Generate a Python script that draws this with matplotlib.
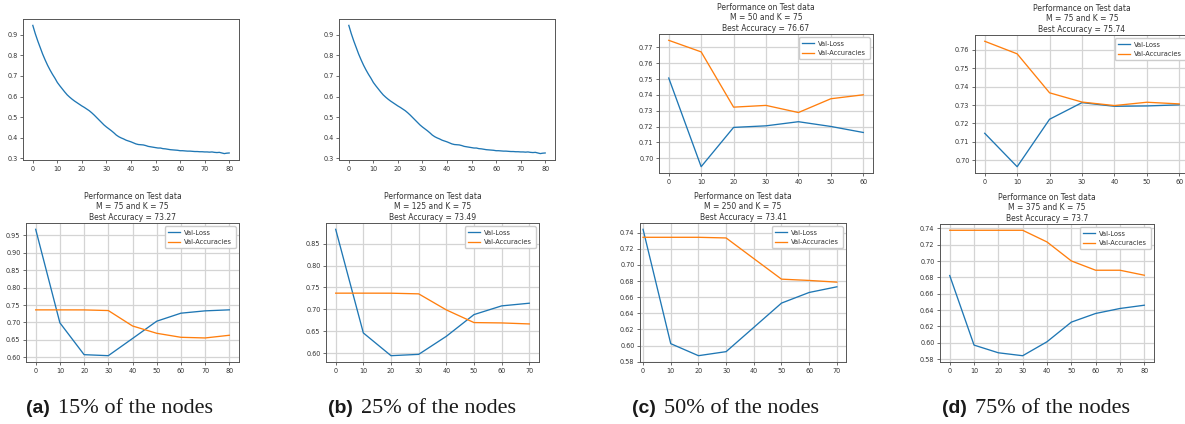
import matplotlib
matplotlib.use('Agg')
import matplotlib.pyplot as plt
from matplotlib.ticker import MultipleLocator, FormatStrFormatter

# ---------------- data ----------------
epochs = list(range(81))
train_loss = [0.945, 0.905, 0.870, 0.838, 0.806, 0.778, 0.752, 0.729, 0.708, 0.689,
              0.668, 0.652, 0.637, 0.622, 0.608, 0.597, 0.587, 0.578, 0.570, 0.562,
              0.554, 0.547, 0.539, 0.531, 0.521, 0.510, 0.498, 0.486, 0.474, 0.462,
              0.452, 0.443, 0.434, 0.424, 0.413, 0.405, 0.399, 0.394, 0.388, 0.384,
              0.380, 0.375, 0.370, 0.367, 0.366, 0.365, 0.362, 0.358, 0.356, 0.354,
              0.352, 0.350, 0.350, 0.347, 0.346, 0.344, 0.342, 0.341, 0.340, 0.339,
              0.337, 0.337, 0.336, 0.335, 0.335, 0.334, 0.333, 0.333, 0.332, 0.332,
              0.331, 0.331, 0.330, 0.331, 0.329, 0.328, 0.329, 0.326, 0.323, 0.325,
              0.326]

steps_m50 = [0, 10, 20, 30, 40, 50, 60]
loss_m50 = [0.7507, 0.6947, 0.7195, 0.7205, 0.7231, 0.7201, 0.7163]
acc_m50 = [0.7745, 0.7672, 0.7323, 0.7334, 0.7289, 0.7376, 0.7401]

steps_m75_top = [0, 10, 20, 30, 40, 50, 60]
loss_m75_top = [0.7147, 0.6966, 0.7223, 0.7313, 0.7293, 0.7295, 0.7301]
acc_m75_top = [0.7645, 0.7577, 0.7366, 0.7316, 0.7297, 0.7315, 0.7306]

steps_m75 = [0, 10, 20, 30, 40, 50, 60, 70, 80]
loss_m75 = [0.967, 0.699, 0.6077, 0.6048, 0.654, 0.7036, 0.7266, 0.7333, 0.7362]
acc_m75 = [0.7361, 0.7361, 0.7360, 0.7342, 0.690, 0.669, 0.6575, 0.6556, 0.6633]

steps_m125 = [0, 10, 20, 30, 40, 50, 60, 70]
loss_m125 = [0.8829, 0.6459, 0.5939, 0.5969, 0.6382, 0.6879, 0.7078, 0.7139]
acc_m125 = [0.7369, 0.7369, 0.7368, 0.7353, 0.6986, 0.6696, 0.6688, 0.6665]

steps_m250 = [0, 10, 20, 30, 40, 50, 60, 70]
loss_m250 = [0.7441, 0.6023, 0.5874, 0.5924, 0.6225, 0.6526, 0.6658, 0.6728]
acc_m250 = [0.7342, 0.7342, 0.7342, 0.7334, 0.7078, 0.6823, 0.6807, 0.6786]

steps_m375 = [0, 10, 20, 30, 40, 50, 60, 70, 80]
loss_m375 = [0.6822, 0.5971, 0.5877, 0.5841, 0.6012, 0.6252, 0.6358, 0.6419, 0.6459]
acc_m375 = [0.7376, 0.7376, 0.7376, 0.7376, 0.7233, 0.7001, 0.6887, 0.6887, 0.6826]

titles = ["Performance on Test data\nM = 50 and K = 75\nBest Accuracy = 76.67",
          "Performance on Test data\nM = 75 and K = 75\nBest Accuracy = 75.74",
          "Performance on Test data\nM = 75 and K = 75\nBest Accuracy = 73.27",
          "Performance on Test data\nM = 125 and K = 75\nBest Accuracy = 73.49",
          "Performance on Test data\nM = 250 and K = 75\nBest Accuracy = 73.41",
          "Performance on Test data\nM = 375 and K = 75\nBest Accuracy = 73.7"]
caption_tags = ["(a)", "(b)", "(c)", "(d)"]
caption_texts = ["15% of the nodes", "25% of the nodes", "50% of the nodes", "75% of the nodes"]

# ---------------- layout ----------------
W, H = 1185, 424
fig = plt.figure(figsize=(W / 100, H / 100), dpi=100)


def px(l, t, r, b):
    return [l / W, 1 - b / H, (r - l) / W, (b - t) / H]


C0 = '#1f77b4'
C1 = '#ff7f0e'
TXT = '#333333'


def style(ax, ystep, yfmt, grid=True):
    ax.tick_params(labelsize=4.7, length=2.5, width=0.6, color='#555555',
                   labelcolor=TXT, pad=1.5)
    for s in ax.spines.values():
        s.set_linewidth(0.7)
        s.set_color('#555555')
    ax.xaxis.set_major_locator(MultipleLocator(10))
    ax.yaxis.set_major_locator(MultipleLocator(ystep))
    ax.yaxis.set_major_formatter(FormatStrFormatter(yfmt))
    if grid:
        ax.grid(True, color='#d4d4d4', linewidth=0.9)
        ax.set_axisbelow(True)


def perf(ax, x, loss, acc, title, ystep):
    ax.plot(x, loss, color=C0, lw=0.95, label='Val-Loss')
    ax.plot(x, acc, color=C1, lw=0.95, label='Val-Accuracies')
    ax.set_title(title, fontsize=5.5, color=TXT, pad=2.5, linespacing=1.2)
    leg = ax.legend(loc='upper right', fontsize=4.8, handlelength=1.8,
                    handletextpad=0.6, borderpad=0.5, labelspacing=0.5,
                    framealpha=1, edgecolor='#cccccc', fancybox=True)
    for t in leg.get_texts():
        t.set_color(TXT)
    style(ax, ystep, '%.2f')


# top row
a1 = fig.add_axes(px(23, 19, 239, 160))
a1.plot(epochs, train_loss, color=C0, lw=0.95)
style(a1, 0.1, '%.1f', grid=False)

a2 = fig.add_axes(px(339, 19, 555, 160))
a2.plot(epochs, train_loss, color=C0, lw=0.95)
style(a2, 0.1, '%.1f', grid=False)

a3 = fig.add_axes(px(659, 34, 873, 173))
perf(a3, steps_m50, loss_m50, acc_m50, titles[0], 0.01)

a4 = fig.add_axes(px(975, 35, 1189, 173))
perf(a4, steps_m75_top, loss_m75_top, acc_m75_top, titles[1], 0.01)

# bottom row
b1 = fig.add_axes(px(26, 223, 239, 362))
perf(b1, steps_m75, loss_m75, acc_m75, titles[2], 0.05)

b2 = fig.add_axes(px(326, 223, 539, 362))
perf(b2, steps_m125, loss_m125, acc_m125, titles[3], 0.05)

b3 = fig.add_axes(px(640, 223, 846, 362))
perf(b3, steps_m250, loss_m250, acc_m250, titles[4], 0.02)
b3.set_xlim(-1.1, 73.3)

b4 = fig.add_axes(px(940, 224, 1154, 362))
perf(b4, steps_m375, loss_m375, acc_m375, titles[5], 0.02)

# captions
renderer = fig.canvas.get_renderer()
cap_x = [26, 328, 632, 942]
base_y = 1 - 413 / H
for xpx, tag, txt in zip(cap_x, caption_tags, caption_texts):
    t1 = fig.text(xpx / W, base_y, tag, fontsize=14, fontweight='bold',
                  family='Liberation Sans', color='#1a1a1a', va='baseline', ha='left')
    bb = t1.get_window_extent(renderer)
    fig.text((bb.x1 + 8) / W, base_y, txt, fontsize=16, family='Liberation Serif',
             color='#1a1a1a', va='baseline', ha='left')

fig.savefig('out.png', dpi=100)
